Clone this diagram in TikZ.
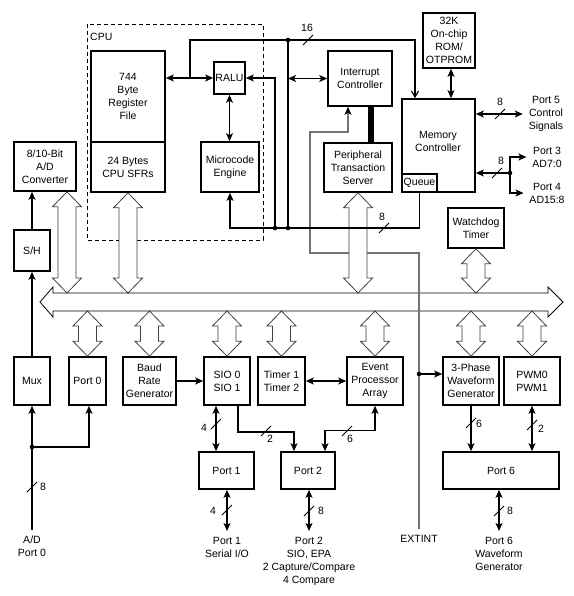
\documentclass[tikz,border=0pt]{standalone}
\usepackage{fontspec}
\setmainfont{Liberation Sans}
\usetikzlibrary{arrows.meta,calc}
\newcommand\fs{\fontsize{10.5}{13}\selectfont}
\newcommand\hollowV[2]{\filldraw[hollowst] let \p1=#1, \p2=#2 in
 (\x1,\y1) -- (\x1+14.5pt,\y1-15pt) -- (\x1+9pt,\y1-15pt) -- (\x1+9pt,\y2+15pt) -- (\x1+14.5pt,\y2+15pt) -- (\x1,\y2) -- (\x1-14.5pt,\y2+15pt) -- (\x1-9pt,\y2+15pt) -- (\x1-9pt,\y1-15pt) -- (\x1-14.5pt,\y1-15pt) -- cycle;}
\newcommand\tickmark[1]{\draw[tickst] #1 ++(-5pt,-5pt) -- ++(10pt,10pt);}
\begin{document}
\begin{tikzpicture}[x=1pt,y=-1pt,
 box/.style={draw, line width=1.6pt, inner sep=0pt, align=center, font=\fs},
 lbl/.style={align=center, font=\fs, inner sep=1pt, outer sep=5pt},
 tl/.style={font=\fs, inner sep=0pt},
 wire/.style={line width=1.4pt},
 ar/.style={line width=1.4pt, -{Stealth[length=8pt,width=7pt,inset=2pt]}},
 ar16/.style={line width=1.2pt, -{Straight Barb[length=6pt,width=7pt]}},
 dbl/.style={line width=1.4pt, {Stealth[length=8pt,width=7pt,inset=2pt]}-{Stealth[length=8pt,width=7pt,inset=2pt]}},
 gline/.style={line width=1.2pt, draw={rgb,255:red,115;green,115;blue,115}, -{Stealth[length=8pt,width=7pt,inset=2pt,black]}},
 hollowst/.style={draw=black!75, fill=white, line width=0.8pt},
 busst/.style={draw=black, fill=white, line width=0.8pt},
 tickst/.style={line width=0.9pt},
 dot/.style={fill=black}]
\fill[white] (0,0) rectangle (573,596);
\useasboundingbox (0,0) rectangle (573,596);

% CPU region
\draw[dash pattern=on 4pt off 3pt, line width=0.9pt] (87,24) rectangle (263,240);
\node[anchor=west, tl] (cpu) at (90,37) {CPU};

% boxes
\node[box, minimum width=74pt, minimum height=91pt] (rf) at (128,96.5) {744\\Byte\\Register\\File};
\node[box, minimum width=74pt, minimum height=50pt] (sfr) at (128,167) {24 Bytes\\CPU SFRs};
\node[box, minimum width=31pt, minimum height=32pt] (ralu) at (229.5,78) {RALU};
\node[box, minimum width=58pt, minimum height=50pt] (mce) at (230,167) {Microcode\\Engine};
\node[box, minimum width=62pt, minimum height=49pt] (adc) at (45,166.5) {8/10-Bit\\A/D\\Converter};
\node[box, minimum width=36pt, minimum height=41pt] (sh) at (32,250.5) {S/H};
\node[box, minimum width=64pt, minimum height=55pt] (ic) at (360,78.5) {Interrupt\\Controller};
\node[box, minimum width=68pt, minimum height=49pt] (pts) at (358,167.5) {Peripheral\\Transaction\\Server};
\node[box, minimum width=73pt, minimum height=93pt] (memc) at (438.5,145.5) {};
\node[tl, align=center] (memct) at (438,141) {Memory\\Controller};
\node[box, minimum width=35pt, minimum height=18pt] (queue) at (419.5,183) {Queue};
\node[box, minimum width=52pt, minimum height=55pt] (rom) at (449,40.5) {32K\\On-chip\\ROM/\\OTPROM};
\node[box, minimum width=56pt, minimum height=40pt] (wdt) at (476,228) {Watchdog\\Timer};

\node[box, minimum width=36pt, minimum height=48pt] (mux) at (32,381) {Mux};
\node[box, minimum width=37pt, minimum height=48pt] (p0) at (87.5,381) {Port 0};
\node[box, minimum width=53pt, minimum height=48pt] (baud) at (149.5,381) {Baud\\Rate\\Generator};
\node[box, minimum width=46pt, minimum height=48pt] (sio) at (227,381) {SIO 0\\SIO 1};
\node[box, minimum width=47pt, minimum height=48pt] (timer) at (281.5,381) {Timer 1\\Timer 2};
\node[box, minimum width=56pt, minimum height=48pt] (epa) at (375,381) {Event\\Processor\\Array};
\node[box, minimum width=56pt, minimum height=48pt] (tpw) at (471,381) {3-Phase\\Waveform\\Generator};
\node[box, minimum width=56pt, minimum height=48pt] (pwm) at (532,381) {PWM0\\PWM1};

\node[box, minimum width=55pt, minimum height=37pt] (p1) at (226.5,470.5) {Port 1};
\node[box, minimum width=54pt, minimum height=37pt] (p2) at (308,470.5) {Port 2};
\node[box, minimum width=116pt, minimum height=37pt] (p6) at (501,470.5) {Port 6};

% outside labels
\node[lbl] (p5) at (546,114) {Port 5\\Control\\Signals};
\node[lbl] (p3) at (547,157) {Port 3\\AD7:0};
\node[lbl] (p4) at (547,193) {Port 4\\AD15:8};
\node[lbl, anchor=north] (adl) at (32,530) {A/D\\Port 0};
\node[lbl, anchor=north] (p1l) at (227,531) {Port 1\\Serial I/O};
\node[lbl, anchor=north] (p2l) at (309,531) {Port 2\\SIO, EPA\\2 Capture/Compare\\4 Compare};
\node[lbl, anchor=north] (p6l) at (499,531) {Port 6\\Waveform\\Generator};
\node[lbl, anchor=north] (extint) at (419,529) {EXTINT};

% bus
\coordinate (bustop) at (0,293);
\coordinate (busbot) at (0,311);
\filldraw[busst] (40,302) -- (53,287) -- (53,293) -- (548,293) -- (548,287) -- (563,302) -- (548,317) -- (548,311) -- (53,311) -- (53,317) -- cycle;

% EXTINT line
\coordinate (jext) at (419,374);
\draw[gline] (extint.north) |- (310,253) |- (348,132) -- ([xshift=-12pt]ic.south);
\draw[ar] (jext) -- (jext -| tpw.west);
\fill[dot] (jext) circle (2.3pt);

% hollow arrows
\coordinate (hA) at ([xshift=22pt]adc.south);
\hollowV{(hA)}{(hA |- bustop)}
\hollowV{(sfr.south)}{(sfr.south |- bustop)}
\hollowV{(pts.south)}{(pts.south |- bustop)}
\hollowV{(wdt.south)}{(wdt.south |- bustop)}
\hollowV{(p0.north |- busbot)}{(p0.north)}
\hollowV{(baud.north |- busbot)}{(baud.north)}
\hollowV{(sio.north |- busbot)}{(sio.north)}
\hollowV{(timer.north |- busbot)}{(timer.north)}
\hollowV{(epa.north |- busbot)}{(epa.north)}
\hollowV{(tpw.north |- busbot)}{(tpw.north)}
\hollowV{(pwm.north |- busbot)}{(pwm.north)}

% CPU connectors
\coordinate (jrf) at (190,78);
\coordinate (j16) at (288,40);
\coordinate (j8b) at (288,228);
\coordinate (j8a) at (275,228);
\draw[dbl] (rf.east |- ralu) -- (ralu.west);
\draw[ar16] (jrf) |- (j16) -| ([xshift=-23.5pt]memc.north);
\draw[wire] (j16) -- (j8b);
\draw[dbl] (j16 |- ic.west) -- (ic.west);
\draw[ar] (j8a) |- (ralu.east);
\draw[ar] (queue.south) |- (j8b) -- (mce.south |- j8b) -- (mce.south);
\draw[dbl] (ralu.south) -- (ralu.south |- mce.north);
\fill[dot] (j16) circle (2.3pt);
\fill[dot] (j8b) circle (2.3pt);
\fill[dot] (j8a) circle (2.3pt);
\tickmark{(308,40)}
\node[tl] at (307,28) {16};
\tickmark{(384,228)}
\node[tl] at (382,217) {8};

% memory controller
\draw[dbl] ([xshift=2pt]rom.south) -- ([xshift=2pt]rom.south |- memc.north);
\draw[dbl] (memc.east |- p5) -- (p5.west);
\tickmark{(500,114)}
\node[tl] at (500,102) {8};
\coordinate (j34) at (510,173);
\draw[ar] (j34) -- (j34 -| memc.east);
\draw[ar] (j34) |- (p3.west);
\draw[ar] (j34) |- (p4.west);
\fill[dot] (j34) circle (2.3pt);
\tickmark{(497,173)}
\node[tl] at (501,161) {8};

% interrupt / PTS bar
\draw[line width=6pt] ([xshift=11pt]ic.south) -- ([xshift=11pt]ic.south |- pts.north);

% A/D chain
\draw[ar] (mux.north) -- (sh.south);
\draw[ar] (sh.north) -- (sh.north |- adc.south);
\coordinate (jmux) at (32,447);
\draw[ar] (adl.north) -- (mux.south);
\draw[ar] (jmux) -| ([xshift=1.5pt]p0.south);
\fill[dot] (jmux) circle (2.3pt);
\tickmark{(32,487)}
\node[tl] at (43,487) {8};

% peripherals
\draw[ar] (baud.east) -- (sio.west);
\draw[dbl] (timer.east) -- (epa.west);
\draw[dbl] ([xshift=-11pt]sio.south) -- ([xshift=-11pt]sio.south |- p1.north);
\tickmark{(216,424)}
\node[tl] at (204,428) {4};
\draw[ar] ([xshift=11pt]sio.south) -- ++(0,26) -| ([xshift=-14pt]p2.north);
\tickmark{(266,431)}
\node[tl] at (270,439) {2};
\draw[dbl] ([xshift=17pt]p2.north) -- ++(0,-21) -| (epa.south);
\tickmark{(347,431)}
\node[tl] at (350,439) {6};
\draw[dbl] (p1.south -| p1l.north) -- (p1l.north);
\tickmark{(227,510)}
\node[tl] at (213,511) {4};
\draw[dbl] (p2.south -| p2l.north) -- (p2l.north);
\tickmark{(309,511)}
\node[tl] at (321,511) {8};
\draw[ar] (tpw.south) -- (tpw.south |- p6.north);
\tickmark{(471,423)}
\node[tl] at (479,424) {6};
\draw[dbl] (pwm.south) -- (pwm.south |- p6.north);
\tickmark{(532,425)}
\node[tl] at (541,429) {2};
\draw[dbl] (p6.south -| p6l.north) -- (p6l.north);
\tickmark{(499,511)}
\node[tl] at (510,511) {8};
\end{tikzpicture}
\end{document}
